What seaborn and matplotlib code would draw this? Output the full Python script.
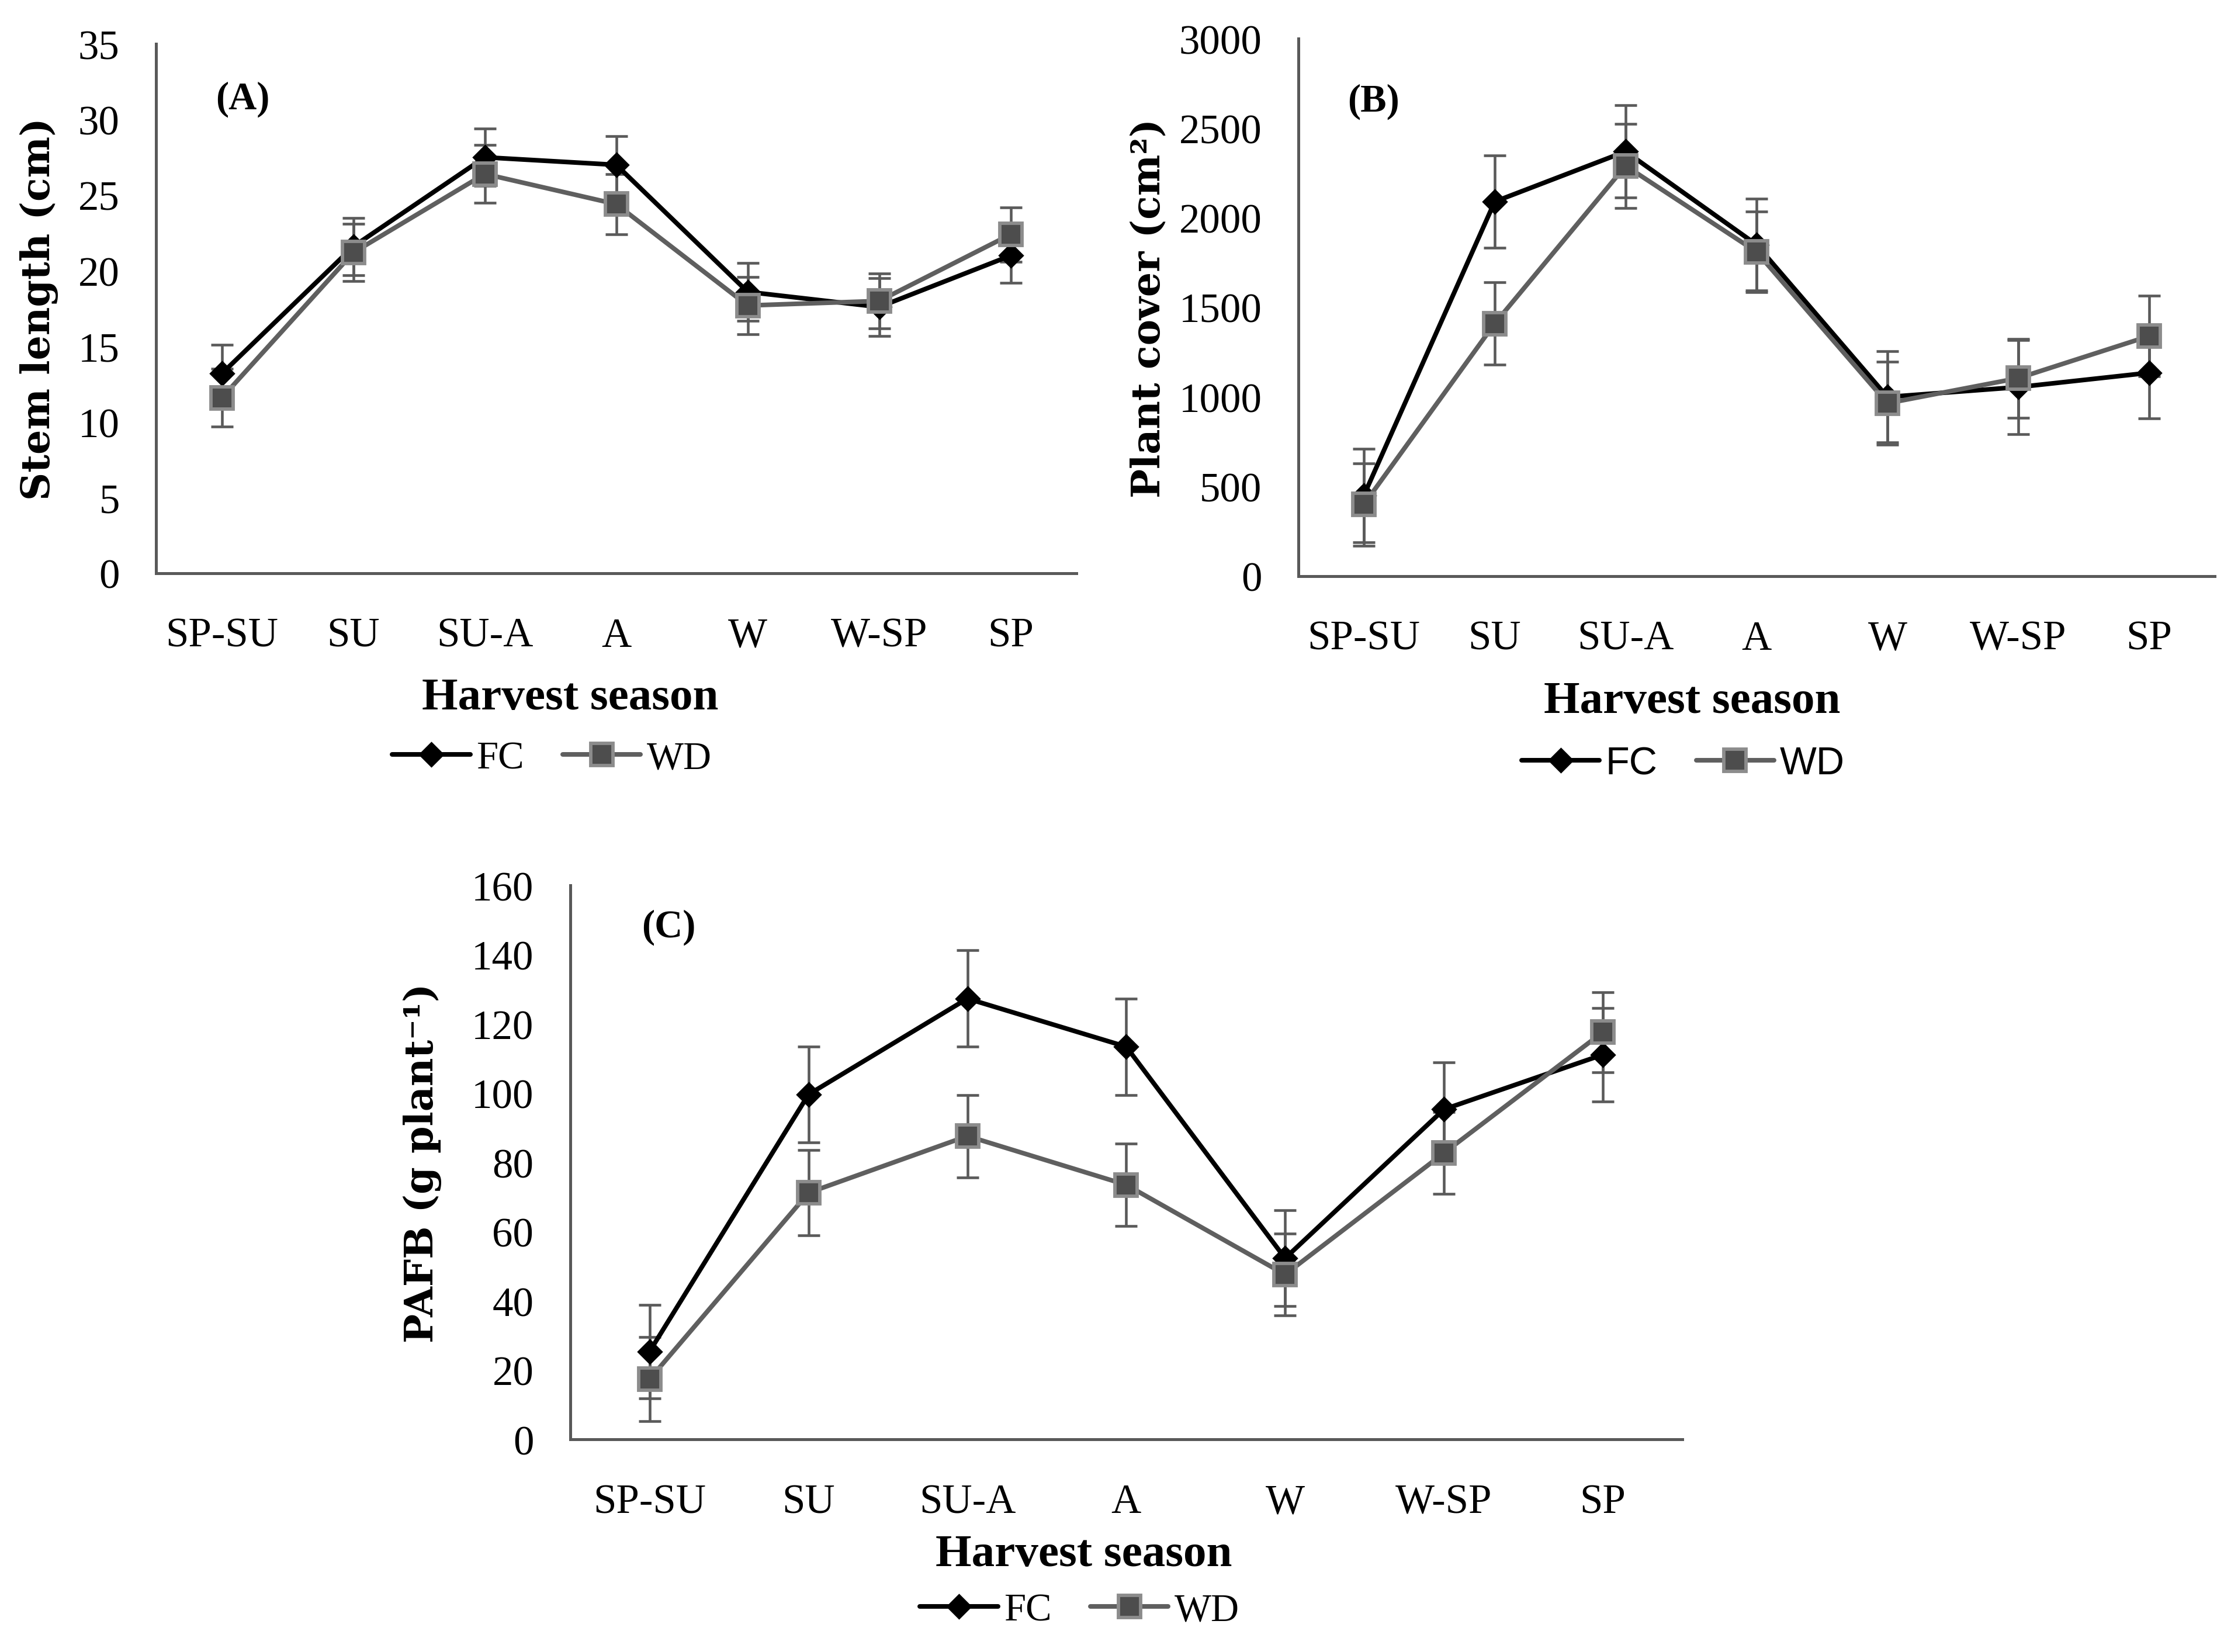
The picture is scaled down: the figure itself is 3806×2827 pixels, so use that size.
import matplotlib
matplotlib.use("Agg")
import matplotlib.pyplot as plt
import seaborn as sns

# harvest seasons (x categories)
seasons = ["SP-SU", "SU", "SU-A", "A", "W", "W-SP", "SP"]

# (A) stem length, cm
stem_fc = [13.2, 21.6, 27.5, 27.0, 18.6, 17.6, 21.0]
stem_fc_err = [1.9, 1.9, 1.9, 1.9, 1.9, 1.9, 1.8]
stem_wd = [11.6, 21.2, 26.4, 24.4, 17.7, 18.0, 22.4]
stem_wd_err = [1.9, 1.9, 1.9, 2.0, 1.9, 1.8, 1.8]

# (B) plant cover, cm2
cover_fc = [450, 2090, 2370, 1850, 1000, 1055, 1135]
cover_fc_err = [260, 257, 257, 256, 254, 262, 256]
cover_wd = [400, 1410, 2290, 1810, 965, 1105, 1340]
cover_wd_err = [230, 230, 235, 226, 232, 220, 224]

# (C) PAFB, g plant-1
pafb_fc = [25.4, 99.6, 127.3, 113.4, 52.3, 95.3, 111.1]
pafb_fc_err = [13.5, 13.8, 13.9, 13.9, 13.8, 13.5, 13.5]
pafb_wd = [17.4, 71.2, 87.6, 73.5, 47.6, 82.7, 117.6]
pafb_wd_err = [12.1, 12.3, 11.9, 11.9, 11.8, 11.8, 11.6]

sns.set_theme(style="white")
plt.rcParams["font.family"] = ["Liberation Serif", "DejaVu Serif"]
plt.rcParams["text.color"] = "black"
plt.rcParams["axes.labelcolor"] = "black"

AXIS_GRAY = "#595959"
ERR_GRAY = "#5a5a5a"
WD_LINE = "#5f5f5f"
WD_FILL = "#4d4d4d"
WD_EDGE = "#8c8c8c"


def draw_panel(ax, fc, fc_err, wd, wd_err, ymax, ystep, ylabel, tag,
               xlab_pos, leg_pos, ylab_x, tag_pos, legend_family):
    ax.errorbar(seasons, fc, yerr=fc_err, fmt="none", ecolor=ERR_GRAY,
                elinewidth=1.1, capsize=4.5, capthick=1.1, zorder=1.5,
                label="_nolegend_")
    ax.errorbar(seasons, wd, yerr=wd_err, fmt="none", ecolor=ERR_GRAY,
                elinewidth=1.1, capsize=4.5, capthick=1.1, zorder=1.5,
                label="_nolegend_")
    sns.lineplot(x=seasons, y=fc, ax=ax, sort=False, color="black",
                 linewidth=1.9, marker="D", markersize=6.8,
                 markerfacecolor="black", markeredgecolor="black",
                 label="FC", zorder=3)
    sns.lineplot(x=seasons, y=wd, ax=ax, sort=False, color=WD_LINE,
                 linewidth=1.9, marker="s", markersize=9.2,
                 markerfacecolor=WD_FILL, markeredgecolor=WD_EDGE,
                 markeredgewidth=1.4, label="WD", zorder=4)

    ax.set_xlim(-0.5, len(seasons) - 0.5)
    ax.set_ylim(0, ymax)
    ax.set_yticks(range(0, ymax + 1, ystep))

    for side in ["top", "right"]:
        ax.spines[side].set_visible(False)
    for side in ["left", "bottom"]:
        ax.spines[side].set_color(AXIS_GRAY)
        ax.spines[side].set_linewidth(1.2)

    ax.tick_params(axis="y", direction="inout", length=10, width=1.2,
                   color=AXIS_GRAY, pad=10, labelsize=17, labelcolor="black")
    ax.tick_params(axis="x", length=0, pad=18, labelsize=17,
                   labelcolor="black")

    ax.set_xlabel("Harvest season", fontsize=19, fontweight="bold",
                  va="center", color="black")
    ax.xaxis.set_label_coords(*xlab_pos)
    ax.set_ylabel(ylabel, fontsize=16, fontweight="bold", va="center",
                  family=["DejaVu Serif"], color="black")
    ax.yaxis.set_label_coords(ylab_x, 0.5)

    ax.text(tag_pos[0], tag_pos[1], tag, transform=ax.transAxes,
            fontsize=16, fontweight="bold", ha="left", va="center",
            color="black")

    leg = ax.legend(loc="center", bbox_to_anchor=leg_pos, ncol=2,
                    frameon=False,
                    prop={"family": legend_family, "size": 16},
                    handlelength=2.0, handletextpad=0.15, columnspacing=1.0,
                    borderaxespad=0)
    for t in leg.get_texts():
        t.set_color("black")


fig = plt.figure(figsize=(3806 / 300, 2828 / 300), dpi=300)
fig.patch.set_facecolor("white")

ax_a = fig.add_axes([0.0702, 0.6528, 0.4138, 0.3203])
ax_b = fig.add_axes([0.5838, 0.6510, 0.4120, 0.3253])
ax_c = fig.add_axes([0.2564, 0.1287, 0.5000, 0.3352])

draw_panel(ax_a, stem_fc, stem_fc_err, stem_wd, stem_wd_err, 35, 5,
           "Stem length (cm)", "(A)",
           (0.450, -0.236), (0.430, -0.350), -0.127, (0.065, 0.896),
           ["Liberation Serif"])
draw_panel(ax_b, cover_fc, cover_fc_err, cover_wd, cover_wd_err, 3000, 500,
           "Plant cover (cm\u00b2)", "(B)",
           (0.430, -0.233), (0.420, -0.349), -0.163, (0.054, 0.884),
           ["Liberation Sans"])
draw_panel(ax_c, pafb_fc, pafb_fc_err, pafb_wd, pafb_wd_err, 160, 20,
           "PAFB (g plant\u207b\u00b9)", "(C)",
           (0.462, -0.208), (0.458, -0.309), -0.133, (0.064, 0.925),
           ["Liberation Serif"])

fig.savefig("out.png", dpi=300, facecolor="white")
